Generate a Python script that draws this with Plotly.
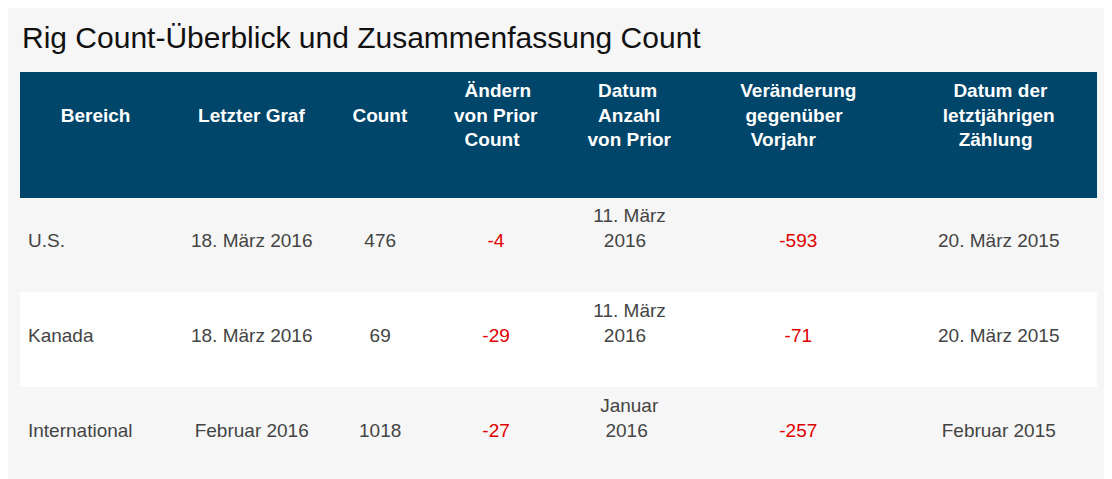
import plotly.graph_objects as go

headers = ["Bereich", "Letzter Graf", "Count", "Ändern<br>von Prior<br>Count",
           "Datum<br>Anzahl<br>von Prior", "Veränderung<br>gegenüber<br>Vorjahr",
           "Datum der<br>letztjährigen<br>Zählung"]
bereich = ["U.S.", "Kanada", "International"]
letzter = ["18. März 2016", "18. März 2016", "Februar 2016"]
count = [476, 69, 1018]
aendern = [-4, -29, -27]
datum_prior = ["11. März<br>2016", "11. März<br>2016", "Januar<br>2016"]
veraenderung = [-593, -71, -257]
datum_vorjahr = ["20. März 2015", "20. März 2015", "Februar 2015"]

NB = "&nbsp;"


def center_lines(s, width_chars=None):
    # pad shorter lines with leading spaces so lines appear centered
    lines = str(s).split("<br>")
    if len(lines) == 1:
        return s
    longest = max(len(l) for l in lines)
    out = []
    for l in lines:
        pad = int(round((longest - len(l)) * 0.55))
        out.append(NB * pad + l)
    return "<br>".join(out)


def cell(v):
    s = str(v)
    if "<br>" in s:
        return center_lines(s)
    return NB + "<br>" + s


hdr = []
for h in headers:
    if "<br>" in h:
        hdr.append("<b>" + center_lines(h) + "</b>")
    else:
        hdr.append("<b>" + NB + "<br>" + h + "</b>")

cols = [bereich, letzter, count, aendern, datum_prior, veraenderung, datum_vorjahr]
cell_vals = [[cell(v) for v in c] for c in cols]

widths = [150, 160, 95, 135, 130, 205, 193]
grey, white = "#f6f6f6", "#ffffff"
rowfill = [grey, white, grey]
txt = "#444444"
red = "#e00000"

fig = go.Figure(go.Table(
    columnwidth=widths,
    header=dict(values=hdr, fill_color="#00456a",
                line_color="#00456a", align="center", height=125,
                font=dict(color="white", size=19, family="Liberation Sans, Arial")),
    cells=dict(values=cell_vals,
               fill_color=[rowfill] * 7, line_color=[rowfill] * 7,
               align=["left"] + ["center"] * 6, height=95,
               font=dict(size=19, family="Liberation Sans, Arial",
                         color=[txt, txt, txt, red, txt, red, txt])),
    domain=dict(x=[0, 1], y=[0, 1]),
))
fig.update_layout(
    width=1104, height=471, paper_bgcolor="#f6f6f6",
    margin=dict(l=12, r=16, t=64, b=0),
    annotations=[dict(text="Rig Count-Überblick und Zusammenfassung Count", x=0, y=1,
                      xref="paper", yref="paper", xanchor="left", yanchor="bottom", yshift=16,
                      showarrow=False, font=dict(size=30, color="#111111",
                                                 family="Liberation Sans, Arial"))],
)
fig.write_html("out.html")
